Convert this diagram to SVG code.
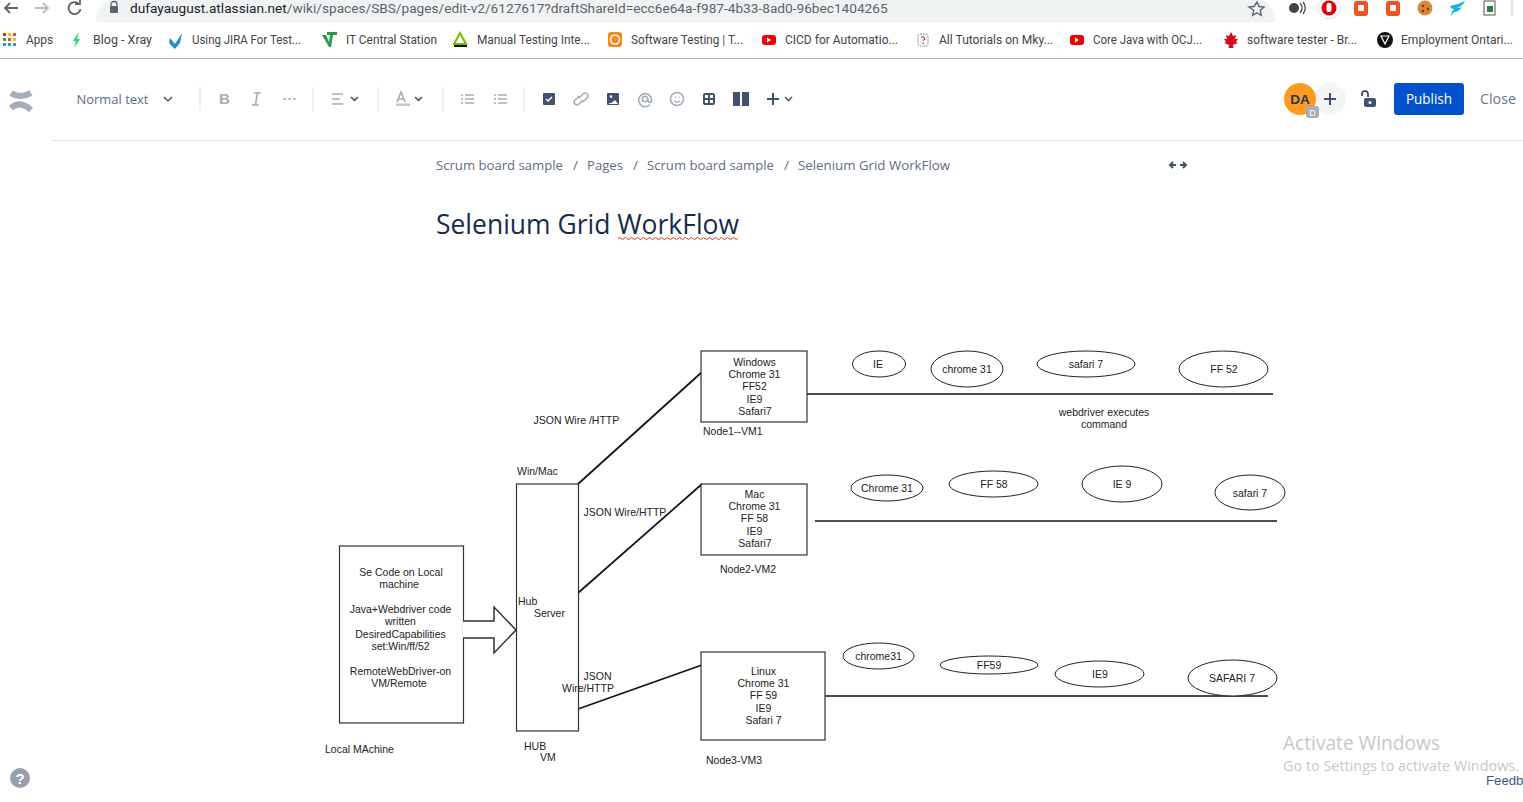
<svg xmlns="http://www.w3.org/2000/svg" width="1523" height="802" viewBox="0 0 1523 802">
<style>
text{font-family:"Liberation Sans",Arial,sans-serif}
.d{font-size:10.5px;fill:#222;text-anchor:middle}
.l{font-size:10.5px;fill:#222}
.b{fill:#fff;stroke:#333;stroke-width:1.2}
.e{fill:#fff;stroke:#222;stroke-width:1}
.c{fill:none;stroke:#111;stroke-width:1.7}
.m{font-family:Roboto,sans-serif;font-size:12.5px;fill:#444}
.t{fill:none;stroke:#a5adba;stroke-width:1.6}
.k{fill:#42526e}
.s{stroke:#dfe1e6;stroke-width:1}
.cr{font-family:"Open Sans",sans-serif;font-size:13.5px;fill:#5e6c84}
</style>
<rect width="1523" height="802" fill="#fff"/>
<g id="browser-bar">
<path d="M112 0H1260a15 22 0 0 1 15 22H96A16 22 0 0 1 112 0Z" fill="#f0f3f4"/>
<path d="M18 8H5M10 3L5 8L10 13" fill="none" stroke="#5f6368" stroke-width="1.8"/>
<path d="M35 8H48M43 3L48 8L43 13" fill="none" stroke="#b8bbbf" stroke-width="1.8"/>
<path d="M79 4A6 6 0 1 0 80.500 9M75 4H80V0" fill="none" stroke="#5f6368" stroke-width="1.8"/>
<path d="M111 6v-1.500a3 3 0 0 1 6 0V6" fill="none" stroke="#5f6368" stroke-width="1.300"/>
<rect x="110" y="6" width="8" height="7" rx="1" fill="#5f6368"/>
<text x="130" y="13" font-size="13.670" style="font-family:Roboto,sans-serif" fill="#5f6368"><tspan fill="#202124">dufayaugust.atlassian.net</tspan>/wiki/spaces/SBS/pages/edit-v2/6127617?draftShareId=ecc6e64a-f987-4b33-8ad0-96bec1404265</text>
<path d="M1257 2l2 4.500 5 .5-3.700 3.300 1 5-4.300-2.600-4.300 2.600 1-5L1249 7l5-.5z" fill="none" stroke="#5f6368" stroke-width="1.400"/>
<circle cx="1294" cy="8" r="5" fill="#444"/><path d="M1300 3a7 7 0 0 1 0 10M1303 2a9 9 0 0 1 0 12" fill="none" stroke="#444" stroke-width="1.300"/>
<circle cx="1329" cy="8" r="11" fill="#fff" stroke="#e4e4e4"/><circle cx="1329" cy="8" r="7.500" fill="#e3000b"/><rect x="1326.500" y="3" width="5" height="9" rx="2" fill="#fff"/>
<rect x="1354" y="1" width="14" height="15" rx="3" fill="#f4511e"/><rect x="1358" y="5" width="6" height="6" rx="1" fill="#fff"/>
<rect x="1386" y="1" width="14" height="15" rx="3" fill="#f4511e"/><rect x="1390" y="5" width="6" height="6" rx="1" fill="#fff"/>
<circle cx="1425" cy="8" r="7.500" fill="#d98a36"/><circle cx="1423" cy="6" r="1.300" fill="#6b3a12"/><circle cx="1428" cy="9" r="1.300" fill="#6b3a12"/><circle cx="1423" cy="11" r="1.300" fill="#6b3a12"/>
<path d="M1450 6q7-1 15-5q-2 5-8 7q3 0 5-1q-3 5-8 5q-2 3-3 4q0-4 3-7q-3 0-4-3z" fill="#1ab0dc"/>
<rect x="1484" y="1" width="11" height="14" fill="#fff" stroke="#555"/><rect x="1487" y="6" width="6" height="6" fill="#2a7d46"/>
<path d="M1512 0V16" stroke="#ccc"/>
</g>
<g id="bookmarks">
<rect x="3" y="33" width="3" height="3" fill="#d93025"/><rect x="8" y="33" width="3" height="3" fill="#fbbc04"/><rect x="13" y="33" width="3" height="3" fill="#ea4335"/>
<rect x="3" y="38" width="3" height="3" fill="#34a853"/><rect x="8" y="38" width="3" height="3" fill="#ea4335"/><rect x="13" y="38" width="3" height="3" fill="#fbbc04"/>
<rect x="3" y="43" width="3" height="3" fill="#4285f4"/><rect x="8" y="43" width="3" height="3" fill="#34a853"/><rect x="13" y="43" width="3" height="3" fill="#4285f4"/>
<text class="m" x="26" y="44" textLength="27" lengthAdjust="spacingAndGlyphs">Apps</text>
<path d="M79 32l-6 9h3l-2 7 6-9h-3z" fill="#1ed67c"/><text class="m" x="93" y="44" textLength="59" lengthAdjust="spacingAndGlyphs">Blog - Xray</text>
<path d="M170 38l5 6 7-11-2 10-5 6-6-6z" fill="#1c8ed8"/><text class="m" x="192" y="44" textLength="109" lengthAdjust="spacingAndGlyphs">Using JIRA For Test...</text>
<path d="M322 35h4l3 7 1-7h-3v-3h10v3h-4l-2 12h-2z" fill="#2e9a4a"/><text class="m" x="346" y="44" textLength="91" lengthAdjust="spacingAndGlyphs">IT Central Station</text>
<path d="M460 33l6 11h-12z" fill="none" stroke="#7ab800" stroke-width="2"/><rect x="454" y="45" width="13" height="2" fill="#111"/><text class="m" x="477" y="44" textLength="113" lengthAdjust="spacingAndGlyphs">Manual Testing Inte...</text>
<rect x="608" y="32" width="14" height="15" rx="3" fill="#f08a1d"/><circle cx="615" cy="39.500" r="4.500" fill="none" stroke="#fff" stroke-width="1.500"/><text class="m" x="631" y="44" textLength="112" lengthAdjust="spacingAndGlyphs">Software Testing | T...</text>
<rect x="762" y="35" width="14" height="10" rx="3" fill="#e00"/><path d="M767 37.500l4 2.500-4 2.500z" fill="#fff"/><text class="m" x="785" y="44" textLength="113" lengthAdjust="spacingAndGlyphs">CICD for Automatio...</text>
<rect x="918" y="34" width="10" height="12" rx="2" fill="none" stroke="#888" stroke-dasharray="2 1"/><path d="M921 37.500q2-2 3.500 0t-1.500 3M923 42.500v1.500" fill="none" stroke="#c00" stroke-width="1"/><text class="m" x="939" y="44" textLength="114" lengthAdjust="spacingAndGlyphs">All Tutorials on Mky...</text>
<rect x="1070" y="35" width="14" height="10" rx="3" fill="#e00"/><path d="M1075 37.500l4 2.500-4 2.500z" fill="#fff"/><text class="m" x="1093" y="44" textLength="109" lengthAdjust="spacingAndGlyphs">Core Java with OCJ...</text>
<path d="M1231 32l2 4 3-1-1 4 3 0-2 3 2 1-5 2 .5 3h-5l.5-3-5-2 2-1-2-3 3 0-1-4 3 1z" fill="#d0101c"/><text class="m" x="1247" y="44" textLength="110" lengthAdjust="spacingAndGlyphs">software tester - Br...</text>
<circle cx="1385" cy="40" r="8" fill="#111"/><path d="M1381 36h8l-4 8z" fill="none" stroke="#fff" stroke-width="1.200"/><text class="m" x="1401" y="44" textLength="112" lengthAdjust="spacingAndGlyphs">Employment Ontari...</text>
<rect x="0" y="58" width="1523" height="1" fill="#bbb"/>
</g>
<g id="toolbar">
<path d="M11 93Q20 99 31 93M11 108Q20 100 31 110" fill="none" stroke="#a5adba" stroke-width="6"/>
<text x="76.500" y="104" style="font-family:'Open Sans',sans-serif" font-size="13.500" fill="#5e6c84" textLength="72" lengthAdjust="spacingAndGlyphs">Normal text</text>
<path d="M164 97l4 4 4-4M351 97l3.500 3.500L358 97M415 97l3.500 3.500L422 97M785 97l3.500 3.500L792 97" fill="none" stroke="#42526e" stroke-width="1.500"/>
<path class="s" d="M200 87V111M313 87V111M378 87V111M443 87V111M524 87V111"/>
<text x="219" y="104" font-size="15" font-weight="bold" fill="#a5adba">B</text>
<path d="M254 93h7M252 105h7M257.500 93l-2 12" class="t"/>
<path class="t" d="M283 99h3M288 99h3M293 99h3"/>
<path class="t" d="M332 94h11M332 99h8M332 104h11"/>
<path d="M397 102l4-10 4 10M398.500 99h5" class="t"/><rect x="396" y="103.500" width="14" height="2.500" fill="#c1c7d0"/>
<path class="t" d="M461 95h2M461 99h2M461 103h2M465 95h9M465 99h9M465 103h9M494 95h2M494 99h2M494 103h2M498 95h9M498 99h9M498 103h9"/>
<rect x="543" y="93" width="12" height="12" rx="1" class="k"/><path d="M546 99l2 2 4-4" stroke="#fff" fill="none" stroke-width="1.500"/>
<path class="t" d="M579 98l4-4a2.800 2.800 0 0 1 4 4l-4 4M583 100l-4 4a2.800 2.800 0 0 1-4-4l4-4" stroke-width="1.900"/>
<rect x="607" y="93" width="12" height="12" rx="1" class="k"/><circle cx="611" cy="96.500" r="1.300" fill="#fff"/><path d="M608 104l5-2 2-2 3 4z" fill="#fff"/>
<path class="t" d="M650 104.500A6.500 6.500 0 1 1 651.500 99V100.500a1.500 1.500 0 0 1-3.500 0V99"/><circle cx="645" cy="99" r="2.700" class="t"/>
<circle cx="677" cy="99" r="6.500" class="t"/><path class="t" d="M674 101q3 2.500 6 0M675 97h1M678.500 97h1"/>
<rect x="703" y="93" width="12" height="12" rx="2" class="k"/><rect x="705" y="95" width="3" height="3" fill="#fff"/><rect x="710" y="95" width="3" height="3" fill="#fff"/><rect x="705" y="100" width="3" height="3" fill="#fff"/><rect x="710" y="100" width="3" height="3" fill="#fff"/>
<rect x="733" y="92" width="7" height="14" class="k"/><rect x="742" y="92" width="7" height="14" class="k"/>
<path d="M767 99h12M773 93v12" stroke="#42526e" stroke-width="2"/>
<circle cx="1330" cy="99" r="16" fill="#f4f5f7"/><path d="M1324 99h12M1330 93v12" stroke="#42526e" stroke-width="2"/>
<circle cx="1300" cy="99" r="16" fill="#ff991f"/>
<text x="1300" y="104" text-anchor="middle" font-size="13.500" font-weight="bold" fill="#253858">DA</text>
<rect x="1306" y="106" width="13" height="12" rx="3" fill="#a5adba"/><text x="1312.500" y="115.500" text-anchor="middle" font-size="9" fill="#fff">D</text>
<path d="M1362 96v-2a3 3 0 0 1 6 0v3" fill="none" stroke="#253858" stroke-width="1.600"/><rect x="1364" y="98" width="12" height="9" rx="2" class="k"/><circle cx="1370" cy="102.500" r="1.500" fill="#fff"/>
<rect x="1394" y="83" width="70" height="32" rx="3" fill="#0052cc"/>
<text x="1429" y="104" text-anchor="middle" font-size="14" fill="#fff" style="font-family:'Open Sans',sans-serif" textLength="46" lengthAdjust="spacingAndGlyphs">Publish</text>
<text x="1480" y="104" font-size="14" fill="#6b778c" style="font-family:'Open Sans',sans-serif" textLength="36" lengthAdjust="spacingAndGlyphs">Close</text>
<rect x="52" y="140" width="1471" height="1" fill="#dfe1e6"/>
</g>
<g id="page-header">
<text class="cr" x="436" y="170" textLength="127" lengthAdjust="spacingAndGlyphs">Scrum board sample</text>
<text class="cr" x="573" y="170">/</text>
<text class="cr" x="587" y="170" textLength="36" lengthAdjust="spacingAndGlyphs">Pages</text>
<text class="cr" x="633" y="170">/</text>
<text class="cr" x="647" y="170" textLength="127" lengthAdjust="spacingAndGlyphs">Scrum board sample</text>
<text class="cr" x="784" y="170">/</text>
<text class="cr" x="798" y="170" textLength="152" lengthAdjust="spacingAndGlyphs">Selenium Grid WorkFlow</text>
<path d="M1170 165h6M1173 162l-3 3 3 3M1180 165h6M1183 162l3 3-3 3" fill="none" stroke="#42526e" stroke-width="1.900"/>
<text x="436" y="234" font-size="27.500" fill="#172b4d" style="font-family:'Open Sans',sans-serif" textLength="303" lengthAdjust="spacingAndGlyphs">Selenium Grid WorkFlow</text>
<path d="M618 238.500q1.500-2 3 0t3 0 3 0 3 0 3 0 3 0 3 0 3 0 3 0 3 0 3 0 3 0 3 0 3 0 3 0 3 0 3 0 3 0 3 0 3 0 3 0 3 0 3 0 3 0 3 0 3 0 3 0 3 0 3 0 3 0 3 0 3 0 3 0 3 0 3 0 3 0 3 0 3 0 3 0 3 0" fill="none" stroke="#de350b" stroke-width="1"/>
</g>
<g id="connectors">
<path class="c" d="M578 484L702 372"/>
<path class="c" d="M578 593L702 484"/>
<path class="c" d="M578 709L702 665"/>
<path class="c" d="M807 394H1273"/>
<path class="c" d="M815 521H1277"/>
<path class="c" d="M825 696H1268"/>
</g>
<g id="local-machine">
<rect class="b" x="339.500" y="546" width="124" height="177"/>
<text class="d" x="401" y="576">Se Code on Local</text>
<text class="d" x="399" y="588">machine</text>
<text class="d" x="400.500" y="613">Java+Webdriver code</text>
<text class="d" x="400.500" y="625">written</text>
<text class="d" x="400.500" y="638">DesiredCapabilities</text>
<text class="d" x="400.500" y="650">set:Win/ff/52</text>
<text class="d" x="400.500" y="675">RemoteWebDriver-on</text>
<text class="d" x="399" y="687">VM/Remote</text>
<text class="l" x="325" y="753">Local MAchine</text>
</g>
<g id="big-arrow">
<path d="M463 621H494V607L516 630L494 653V638H463" fill="#fff" stroke="#333" stroke-width="1.500"/>
</g>
<g id="hub">
<rect class="b" x="516.500" y="484" width="62" height="247"/>
<text class="l" x="518" y="605">Hub</text>
<text class="l" x="534" y="617">Server</text>
<text class="l" x="517" y="475">Win/Mac</text>
<text class="l" x="524" y="750">HUB</text>
<text class="l" x="540" y="761">VM</text>
</g>
<g id="connector-labels">
<text class="l" x="533.500" y="424">JSON Wire /HTTP</text>
<text class="l" x="583.500" y="516">JSON Wire/HTTP</text>
<text class="l" x="583.500" y="680">JSON</text>
<text class="l" x="562" y="692">Wire/HTTP</text>
<text class="d" x="1104" y="416">webdriver executes</text>
<text class="d" x="1104" y="428">command</text>
</g>
<g id="node1">
<rect class="b" x="701" y="351" width="106" height="71"/>
<text class="d" x="754.500" y="366">Windows</text>
<text class="d" x="754.500" y="378">Chrome 31</text>
<text class="d" x="754.500" y="390">FF52</text>
<text class="d" x="754.500" y="403">IE9</text>
<text class="d" x="755" y="415">Safari7</text>
<text class="l" x="703" y="435">Node1--VM1</text>
</g>
<g id="node2">
<rect class="b" x="701" y="484" width="106" height="71"/>
<text class="d" x="754.500" y="498">Mac</text>
<text class="d" x="754.500" y="510">Chrome 31</text>
<text class="d" x="754.500" y="522">FF 58</text>
<text class="d" x="754.500" y="535">IE9</text>
<text class="d" x="755" y="547">Safari7</text>
<text class="l" x="720" y="573">Node2-VM2</text>
</g>
<g id="node3">
<rect class="b" x="701" y="652" width="124" height="88"/>
<text class="d" x="763.500" y="675">Linux</text>
<text class="d" x="763.500" y="687">Chrome 31</text>
<text class="d" x="763.500" y="699">FF 59</text>
<text class="d" x="763.500" y="712">IE9</text>
<text class="d" x="763.500" y="724">Safari 7</text>
<text class="l" x="706" y="764">Node3-VM3</text>
</g>
<g id="browser-ie"><ellipse class="e" cx="879" cy="364" rx="26.500" ry="13"/><text class="d" x="878" y="368">IE</text></g>
<g id="browser-chrome31"><ellipse class="e" cx="967" cy="369" rx="36" ry="18"/><text class="d" x="967" y="373">chrome 31</text></g>
<g id="browser-safari7"><ellipse class="e" cx="1086" cy="364" rx="49" ry="13"/><text class="d" x="1086" y="368">safari 7</text></g>
<g id="browser-ff52"><ellipse class="e" cx="1223.500" cy="369" rx="44.500" ry="18"/><text class="d" x="1224" y="373">FF 52</text></g>
<g id="browser-chrome31b"><ellipse class="e" cx="887" cy="488" rx="36" ry="13"/><text class="d" x="887" y="492">Chrome 31</text></g>
<g id="browser-ff58"><ellipse class="e" cx="993.500" cy="484" rx="44.500" ry="13"/><text class="d" x="994" y="488">FF 58</text></g>
<g id="browser-ie9"><ellipse class="e" cx="1122" cy="484" rx="40" ry="18"/><text class="d" x="1122" y="488">IE 9</text></g>
<g id="browser-safari7b"><ellipse class="e" cx="1250" cy="492.500" rx="35" ry="17.500"/><text class="d" x="1250" y="497">safari 7</text></g>
<g id="browser-chrome31c"><ellipse class="e" cx="878.500" cy="656" rx="35.500" ry="13"/><text class="d" x="878.500" y="660">chrome31</text></g>
<g id="browser-ff59"><ellipse class="e" cx="989" cy="665" rx="49" ry="9"/><text class="d" x="989" y="669">FF59</text></g>
<g id="browser-ie9c"><ellipse class="e" cx="1099.500" cy="674" rx="44.500" ry="13"/><text class="d" x="1100" y="678">IE9</text></g>
<g id="browser-safari7c"><ellipse class="e" cx="1232.500" cy="678" rx="44.500" ry="18"/><text class="d" x="1232" y="682">SAFARI 7</text></g>
<g id="overlay">
<circle cx="20" cy="778" r="10" fill="#97a0af"/>
<text x="20" y="783.500" text-anchor="middle" font-size="15" font-weight="bold" fill="#fff">?</text>
<text x="1283" y="750" font-size="20" fill="#c8c8c8" style="font-family:'Open Sans',sans-serif" textLength="157" lengthAdjust="spacingAndGlyphs">Activate Windows</text>
<text x="1283" y="771" font-size="14.500" fill="#c8c8c8" style="font-family:'Open Sans',sans-serif" textLength="236" lengthAdjust="spacingAndGlyphs">Go to Settings to activate Windows.</text>
<text x="1486" y="785" font-size="13.200" fill="#3b5a8a">Feedb</text>
</g>
</svg>
